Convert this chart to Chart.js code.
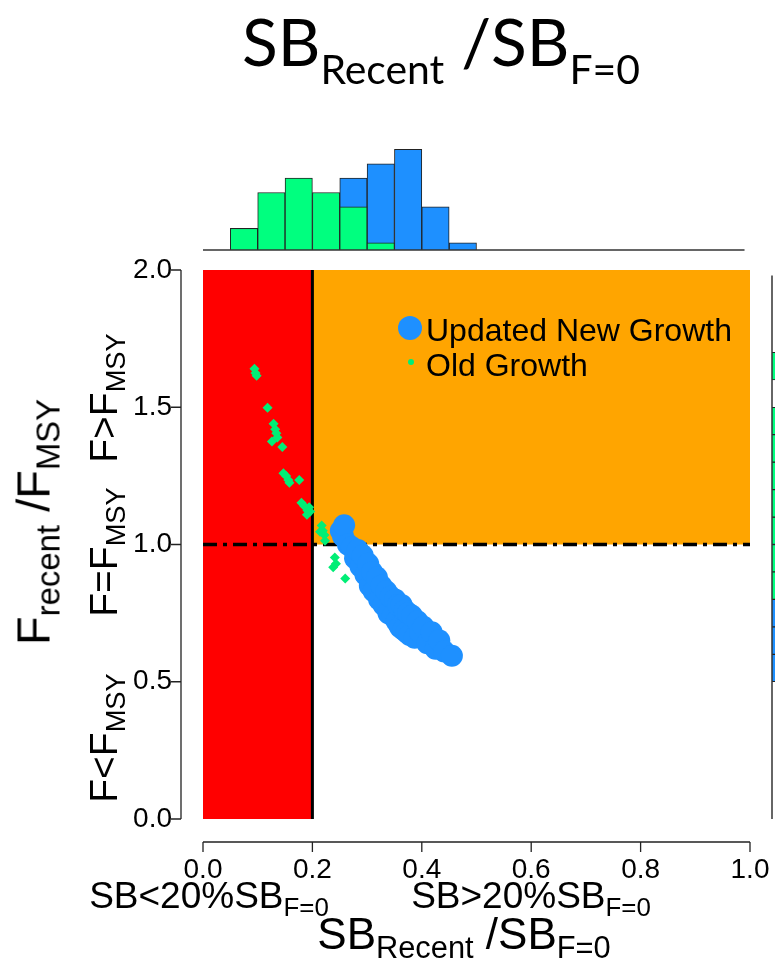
<!doctype html>
<html lang="en">
<head>
    <meta charset="UTF-8">
    <title>Kobe plot - SB recent / SB F=0</title>
    <script src="https://cdn.jsdelivr.net/npm/chart.js"></script>
    <style>
        html, body { margin: 0; padding: 0; background: #fff; }
        #page { position: relative; width: 775px; height: 978px; overflow: hidden; background: #fff; }
        canvas { position: absolute; }
        .txt { position: absolute; white-space: nowrap; line-height: 1; color: #000; font-family: "Liberation Sans", Arial, sans-serif; }
        .rot { transform: translate(-50%, -50%) rotate(-90deg); }
        .s { font-size: 0.7em; position: relative; top: 0.3em; }
        .ts { font-size: 0.62em; position: relative; top: 0.45em; }
        #rightStrip { position: absolute; left: 770px; top: 0; width: 5px; height: 978px; overflow: hidden; }
        .dot { position: absolute; border-radius: 50%; }
    </style>
</head>
<body>
<div id="page">
    <canvas id="histTop" width="775" height="125" style="left:0;top:130px"></canvas>
    <canvas id="kobe" width="775" height="978" style="left:0;top:0"></canvas>
    <div id="rightStrip"><canvas id="histRight" width="200" height="978" style="left:0;top:0"></canvas></div>

    <!-- titles -->
    <div class="txt" style="left:0;width:882px;top:8px;text-align:center;font-family:Lato,'Open Sans',sans-serif;font-size:66px">SB<span class="ts">Recent</span> /SB<span class="ts">F=0</span></div>
    <div class="txt" style="left:0;width:928px;top:912px;text-align:center;font-size:44px">SB<span class="s">Recent</span> /SB<span class="s">F=0</span></div>
    <div class="txt" style="left:0;width:418px;top:877px;text-align:center;font-size:37px">SB&lt;20%SB<span class="s">F=0</span></div>
    <div class="txt" style="left:0;width:1062px;top:877px;text-align:center;font-size:37px">SB&gt;20%SB<span class="s">F=0</span></div>

    <div class="txt rot" style="left:33px;top:522px;font-size:47px">F<span class="s">recent</span> /F<span class="s">MSY</span></div>
    <div class="txt rot" style="left:103px;top:398px;font-size:39px">F&gt;F<span class="s">MSY</span></div>
    <div class="txt rot" style="left:103px;top:552px;font-size:39px">F=F<span class="s">MSY</span></div>
    <div class="txt rot" style="left:103px;top:738px;font-size:39px">F&lt;F<span class="s">MSY</span></div>

    <!-- legend -->
    <div class="dot" style="left:398px;top:316px;width:24px;height:24px;background:#1E90FF"></div>
    <div class="txt" style="left:426px;top:314px;font-size:32px">Updated New Growth</div>
    <div class="dot" style="left:408px;top:359px;width:6px;height:6px;background:#00EE76"></div>
    <div class="txt" style="left:426px;top:349px;font-size:32px">Old Growth</div>
</div>

<script>
// reference levels
const sbLimit = 0.2;
const fRef = 1.0;

// tick labels
const sbTicks = [0.0, 0.2, 0.4, 0.6, 0.8, 1.0];
const fTicks = [0.0, 0.5, 1.0, 1.5, 2.0];

// updated new growth: SB recent / SB F=0, F recent / F MSY
const newSB = [0.252, 0.256, 0.258, 0.265, 0.272, 0.278, 0.283, 0.288, 0.292, 0.297,
               0.302, 0.305, 0.309, 0.312, 0.318, 0.322, 0.326, 0.330, 0.335, 0.339, 0.343, 0.347,
               0.351, 0.354, 0.357, 0.360, 0.363, 0.366, 0.369, 0.372, 0.375, 0.378, 0.382, 0.387, 0.392, 0.397,
               0.403, 0.410, 0.418, 0.425, 0.432, 0.441,
               0.455];
const newF  = [1.05, 1.03, 1.07, 1.00, 0.99, 0.95, 0.98, 0.92, 0.96, 0.89,
               0.93, 0.85, 0.90, 0.83, 0.88, 0.80, 0.85, 0.78, 0.83, 0.75, 0.81, 0.74,
               0.80, 0.72, 0.78, 0.70, 0.78, 0.69, 0.76, 0.68, 0.75, 0.67, 0.74, 0.66, 0.72, 0.68,
               0.70, 0.64, 0.68, 0.62, 0.65, 0.61,
               0.595];

// old growth
const oldSB = [0.094, 0.096, 0.098,
               0.118, 0.126, 0.129, 0.132, 0.134, 0.136, 0.145, 0.147,
               0.152, 0.156, 0.158, 0.176, 0.180, 0.185, 0.190, 0.191, 0.194, 0.196,
               0.214, 0.217, 0.219, 0.223, 0.222, 0.238, 0.241, 0.243,
               0.260, 0.262, 0.268, 0.275, 0.285, 0.295,
               0.310];
const oldF  = [1.64, 1.625, 1.615,
               1.498, 1.375, 1.44, 1.42, 1.405, 1.39, 1.355, 1.26,
               1.25, 1.235, 1.225, 1.235, 1.152, 1.14, 1.108, 1.124, 1.136, 1.12,
               1.046, 1.069, 1.05, 1.014, 1.035, 0.917, 0.953, 0.93,
               0.876, 1.02, 1.00, 0.97, 0.95, 0.91,
               0.87];

// marginal histogram of SB recent / SB F=0 (bin width 0.05)
const sbBinCentres = [0.075, 0.125, 0.175, 0.225, 0.275, 0.325, 0.375, 0.425, 0.475];
const oldSBCounts  = [3, 8, 10, 8, 6, 1, 0, 0, 0];
const newSBCounts  = [0, 0, 0, 0, 10, 12, 14, 6, 1];

// marginal histogram of F recent / F MSY (bin width 0.1), cut off at the right edge
const fBinCentres = [0.55, 0.65, 0.75, 0.85, 0.95, 1.05, 1.15, 1.25, 1.35, 1.45, 1.55, 1.65];
const oldFCounts  = [0, 0, 0, 2, 6, 7, 6, 5, 3, 4, 0, 3];
const newFCounts  = [1, 6, 15, 10, 6, 5, 0, 0, 0, 0, 0, 0];

const RED = '#FF0000', ORANGE = '#FFA500', BLUE = '#1E90FF', GREEN = '#00EE76';
const tickFont = { family: 'Liberation Sans', size: 28 };

function pts(xs, ys) { return xs.map((v, i) => ({ x: v, y: ys[i] })); }

// quadrants, reference lines and R style offset axes
const kobeDecor = {
    id: 'kobeDecor',
    beforeDatasetsDraw(chart) {
        const { ctx, scales: { x, y } } = chart;
        const x0 = x.getPixelForValue(0), xl = x.getPixelForValue(sbLimit), x1 = x.getPixelForValue(1);
        const y0 = y.getPixelForValue(0), yr = y.getPixelForValue(fRef), y2 = y.getPixelForValue(2);
        ctx.save();
        ctx.fillStyle = RED;
        ctx.fillRect(x0, y2, xl - x0, y0 - y2);
        ctx.fillStyle = ORANGE;
        ctx.fillRect(xl, y2, x1 - xl, yr - y2);

        ctx.strokeStyle = '#000';
        ctx.lineWidth = 3;
        ctx.beginPath();
        ctx.moveTo(xl, y0);
        ctx.lineTo(xl, y2);
        ctx.stroke();

        ctx.lineWidth = 3.5;
        ctx.setLineDash([14, 6, 4, 6]);
        ctx.beginPath();
        ctx.moveTo(x0, yr);
        ctx.lineTo(x1, yr);
        ctx.stroke();
        ctx.restore();
    },
    afterDraw(chart) {
        const { ctx, scales: { x, y } } = chart;
        const axX = 181, axY = 842;
        ctx.save();
        ctx.strokeStyle = '#222';
        ctx.lineWidth = 1.3;
        ctx.beginPath();
        ctx.moveTo(axX, y.getPixelForValue(0));
        ctx.lineTo(axX, y.getPixelForValue(2));
        y.ticks.forEach(t => {
            const py = y.getPixelForValue(t.value);
            ctx.moveTo(axX, py);
            ctx.lineTo(axX - 10, py);
        });
        ctx.moveTo(x.getPixelForValue(0), axY);
        ctx.lineTo(x.getPixelForValue(1), axY);
        x.ticks.forEach(t => {
            const px = x.getPixelForValue(t.value);
            ctx.moveTo(px, axY);
            ctx.lineTo(px, axY + 10);
        });
        ctx.stroke();
        ctx.restore();
    }
};

new Chart(document.getElementById('kobe'), {
    type: 'scatter',
    data: {
        datasets: [
            { label: 'Updated New Growth', data: pts(newSB, newF), backgroundColor: BLUE, borderWidth: 0, pointRadius: 11, pointStyle: 'circle' },
            { label: 'Old Growth', data: pts(oldSB, oldF), backgroundColor: GREEN, borderWidth: 0, pointRadius: 5, pointStyle: 'rectRot' }
        ]
    },
    options: {
        responsive: false,
        animation: false,
        events: [],
        layout: { padding: { top: 270, right: 25, left: 0, bottom: 0 } },
        plugins: { legend: { display: false }, tooltip: { enabled: false } },
        scales: {
            x: {
                type: 'linear', position: 'bottom', min: 0, max: 1,
                afterBuildTicks: s => { s.ticks = sbTicks.map(v => ({ value: v })); },
                afterFit: s => { s.height = 159; s.paddingLeft = 0; s.paddingRight = 0; },
                grid: { display: false, drawTicks: false },
                border: { display: false },
                ticks: { padding: 34, font: tickFont, color: '#000', autoSkip: false, maxRotation: 0, callback: v => v.toFixed(1) }
            },
            y: {
                type: 'linear', position: 'left', min: 0, max: 2,
                afterBuildTicks: s => { s.ticks = fTicks.map(v => ({ value: v })); },
                afterFit: s => { s.width = 203; s.paddingTop = 0; s.paddingBottom = 0; },
                grid: { display: false, drawTicks: false },
                border: { display: false },
                ticks: { padding: 31, font: tickFont, color: '#000', callback: v => v.toFixed(1) }
            }
        }
    },
    plugins: [kobeDecor]
});

// top marginal histogram
const topBaseline = {
    id: 'topBaseline',
    afterDraw(chart) {
        const { ctx, scales: { x, y } } = chart;
        ctx.save();
        ctx.strokeStyle = '#333';
        ctx.lineWidth = 1.5;
        ctx.beginPath();
        ctx.moveTo(x.getPixelForValue(0), y.getPixelForValue(0));
        ctx.lineTo(x.getPixelForValue(0.99), y.getPixelForValue(0));
        ctx.stroke();
        ctx.restore();
    }
};

new Chart(document.getElementById('histTop'), {
    type: 'bar',
    data: {
        datasets: [
            { label: 'Old Growth', data: pts(sbBinCentres, oldSBCounts), backgroundColor: '#00FF7F', borderColor: '#222', borderWidth: 1 },
            { label: 'Updated New Growth', data: pts(sbBinCentres, newSBCounts), backgroundColor: BLUE, borderColor: '#222', borderWidth: 1 }
        ]
    },
    options: {
        responsive: false,
        animation: false,
        events: [],
        layout: { padding: { left: 203, right: 25, top: 5, bottom: 5 } },
        plugins: { legend: { display: false }, tooltip: { enabled: false } },
        datasets: { bar: { grouped: false, categoryPercentage: 1, barPercentage: 1 } },
        scales: {
            x: { type: 'linear', min: 0, max: 1, offset: false, display: false },
            y: { min: 0, max: 16, display: false }
        }
    },
    plugins: [topBaseline]
});

// right marginal histogram (only its first pixels are inside the picture)
const rightBaseline = {
    id: 'rightBaseline',
    afterDraw(chart) {
        const { ctx, scales: { x, y } } = chart;
        ctx.save();
        ctx.strokeStyle = '#333';
        ctx.lineWidth = 1.5;
        ctx.beginPath();
        ctx.moveTo(x.getPixelForValue(0), y.getPixelForValue(0));
        ctx.lineTo(x.getPixelForValue(0), y.getPixelForValue(1.98));
        ctx.stroke();
        ctx.restore();
    }
};

new Chart(document.getElementById('histRight'), {
    type: 'bar',
    data: {
        datasets: [
            { label: 'Old Growth', data: fBinCentres.map((v, i) => ({ y: v, x: oldFCounts[i] })), backgroundColor: '#00FF7F', borderColor: '#222', borderWidth: 1 },
            { label: 'Updated New Growth', data: fBinCentres.map((v, i) => ({ y: v, x: newFCounts[i] })), backgroundColor: BLUE, borderColor: '#222', borderWidth: 1 }
        ]
    },
    options: {
        indexAxis: 'y',
        responsive: false,
        animation: false,
        events: [],
        layout: { padding: { left: 2, right: 0, top: 270, bottom: 159 } },
        plugins: { legend: { display: false }, tooltip: { enabled: false } },
        datasets: { bar: { grouped: false, categoryPercentage: 1, barPercentage: 1 } },
        scales: {
            y: { type: 'linear', min: 0, max: 2, offset: false, display: false },
            x: { min: 0, max: 27, display: false }
        }
    },
    plugins: [rightBaseline]
});
</script>
</body>
</html>
